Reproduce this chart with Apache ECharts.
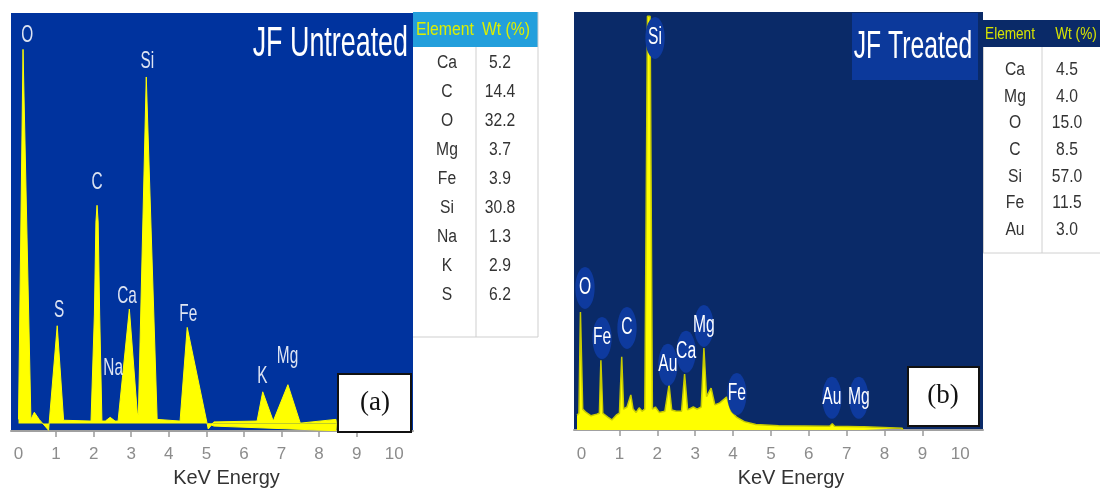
<!DOCTYPE html>
<html>
<head>
<meta charset="utf-8">
<script src="https://cdn.jsdelivr.net/npm/echarts@6/dist/echarts.min.js"></script>
<style>html,body{margin:0;padding:0;background:#fff}#c{width:1100px;height:493px}</style>
</head>
<body>
<div id="c"></div>
<script>
// ---------- DATA ----------
const titleA = 'JF Untreated';
const titleB = 'JF Treated';
const axisTitle = 'KeV Energy';
const tickLabels = [0,1,2,3,4,5,6,7,8,9,10];
const tickMarks = [1,2,3,4,5,6,7,8,9];

// Panel (a) spectrum: [keV, counts]
const spectrumA = [[0.0,2.8],[0.12,91.3],[0.33,2.8],[0.42,4.5],[0.55,2.8],[0.8,0.2],[1.03,25.2],[1.2,2.6],
  [1.93,2.4],[2.02,28],[2.06,50],[2.09,54],[2.12,50],[2.16,28],[2.22,2.4],[2.31,2.4],[2.44,3.3],[2.57,2.4],
  [2.65,2.4],[2.95,29.2],[3.16,4.5],[3.19,4.0],[3.4,84.7],[3.69,2.8],[4.3,2.4],[4.49,24.8],[5.05,0.5],
  [5.2,2.2],[6.35,2.4],[6.5,9.4],[6.78,2.4],[7.17,11.1],[7.5,1.9],[8.45,2.8],[8.46,1.8]];
const wedgeA = [[5.05,1.8],[5.2,1.2],[8.45,0.1],[8.46,1.8]];
const labelNamesA = ['O','Si','C','S','Ca','Na','Fe','K','Mg'];
const labelKeVA = [0.23,3.43,2.09,1.08,2.89,2.52,4.52,6.49,7.16];
const labelCountsA = [94.6,88.4,59.4,28.8,32.3,15.1,27.8,13.0,17.9];

// Panel (b) spectrum
const spectrumB = [[-0.12,3.5],[-0.07,4],[-0.03,28.2],[0.0,28.2],[0.03,5],[0.12,4.2],[0.25,3.4],[0.4,3.8],
  [0.47,4],[0.51,16.7],[0.56,4],[0.7,3.0],[0.8,2.4],[0.92,3.6],[1.0,4],[1.06,17.5],[1.11,5],[1.2,5.5],
  [1.3,8.4],[1.36,5],[1.44,4.2],[1.52,5.3],[1.6,4.5],[1.67,5],[1.74,99],[1.81,99],[1.87,5],[1.95,5.5],
  [2.05,4.2],[2.2,4.5],[2.24,4.8],[2.31,10.8],[2.38,4.8],[2.5,4.5],[2.64,4.5],[2.72,13.4],[2.8,4.8],
  [2.95,5.5],[3.05,5],[3.16,5.5],[3.23,19.6],[3.3,8],[3.42,10],[3.52,6],[3.65,6.5],[3.83,7.9],[3.95,4.5],
  [4.1,3],[4.3,2],[4.6,1.3],[5.2,1.0],[6.55,0.9],[6.62,1.5],[6.68,0.9],[7.35,0.8],[7.4,1.2],[7.45,0.8],
  [8.47,0.4],[8.47,0]];
const labelNamesB = ['Si','O','Fe','C','Au','Ca','Mg','Fe','Au','Mg'];
const labelKeVB = [1.94,0.09,0.54,1.2,2.28,2.76,3.23,4.1,6.61,7.32];
const labelCountsB = [93.8,34.0,22.0,24.4,15.6,18.7,24.9,8.6,7.7,7.7];

// Tables
const elementsA = ['Ca','C','O','Mg','Fe','Si','Na','K','S'];
const wtA = [5.2,14.4,32.2,3.7,3.9,30.8,1.3,2.9,6.2];
const elementsB = ['Ca','Mg','O','C','Si','Fe','Au'];
const wtB = [4.5,4.0,15.0,8.5,57.0,11.5,3.0];
const tableHeader = ['Element','Wt (%)'];
const panelTags = ['(a)','(b)'];

// ---------- STYLE ----------
const SANS = 'Liberation Sans';
const NARROW = "'Liberation Sans Narrow', 'Liberation Sans', sans-serif";
const blueA = '#00339e', navyB = '#0a2a68';

function xAxisCfg(gridIndex, offset, margin, nameGap, namePadLeft){
  return {
    type:'value', gridIndex, min:-0.2, max: gridIndex===0 ? 10.5 : 10.6, offset,
    name: axisTitle, nameLocation:'middle', nameGap,
    nameTextStyle:{color:'#333', fontSize:20, fontFamily:SANS, padding:[0,0,0,namePadLeft]},
    axisLine:{show:true, lineStyle:{color:'#a0a0a0', width:2}},
    axisTick:{show:true, customValues:tickMarks, length:6, lineStyle:{color:'#9a9a9a', width:1.5}},
    axisLabel:{customValues:tickLabels, margin, color:'#8c8c8c', fontSize:17, fontFamily:NARROW},
    splitLine:{show:false}
  };
}
function yAxisCfg(gridIndex){
  return {type:'value', gridIndex, min:0, max:100, show:false, splitLine:{show:false}};
}

function labelSeries(idx, names, keV, counts, withEllipse){
  return {
    type:'custom', xAxisIndex:idx, yAxisIndex:idx, z:10, clip:false,
    encode:{x:0, y:1},
    data: keV.map((k,i)=>[k, counts[i]]),
    renderItem: function(params, api){
      const p = api.coord([api.value(0), api.value(1)]);
      const txt = {type:'text', scaleX: withEllipse ? 0.68 : 0.64,
        style:{text:names[params.dataIndex], fill: withEllipse ? '#ffffff' : '#dde4f2',
               fontSize: withEllipse ? 23 : 24, fontFamily:SANS, align:'center', verticalAlign:'middle'}};
      const children = [];
      if (withEllipse) children.push({type:'circle', scaleX:0.46, shape:{cx:0, cy:0, r:21}, style:{fill:'#0e3a9e'}});
      children.push(txt);
      return {type:'group', x:p[0], y:p[1], children};
    }
  };
}

// ---------- GRAPHIC (titles, tables, tags) ----------
const G = [];
G.push({type:'text', x:408, y:44, scaleX:0.625, z:100,
  style:{text:titleA, fill:'#ffffff', fontSize:43, fontFamily:SANS, align:'right', verticalAlign:'middle'}});
G.push({type:'rect', shape:{x:852, y:13, width:126, height:67}, z:99, style:{fill:'#0c399b'}});
G.push({type:'text', x:913, y:48, scaleX:0.65, z:100,
  style:{text:titleB, fill:'#ffffff', fontSize:38, fontFamily:SANS, align:'center', verticalAlign:'middle'}});

// table a
G.push({type:'rect', shape:{x:413, y:12, width:125, height:35}, z:99, style:{fill:'#239fdc'}});
G.push({type:'text', x:445, y:30, scaleX:0.83, z:100, style:{text:tableHeader[0], fill:'#dcef00', fontSize:19, fontFamily:SANS, align:'center', verticalAlign:'middle'}});
G.push({type:'text', x:506, y:30, scaleX:0.83, z:100, style:{text:tableHeader[1], fill:'#dcef00', fontSize:19, fontFamily:SANS, align:'center', verticalAlign:'middle'}});
G.push({type:'line', shape:{x1:476, y1:47, x2:476, y2:337}, z:99, style:{stroke:'#cfcfcf', lineWidth:1}});
G.push({type:'line', shape:{x1:538, y1:12, x2:538, y2:337}, z:99, style:{stroke:'#cfcfcf', lineWidth:1}});
G.push({type:'line', shape:{x1:413, y1:337, x2:538, y2:337}, z:99, style:{stroke:'#cfcfcf', lineWidth:1}});
elementsA.forEach((e,i)=>{
  const y = 63 + 29*i;
  G.push({type:'text', x:447, y, scaleX:0.87, z:100, style:{text:e, fill:'#333', fontSize:18, fontFamily:SANS, align:'center', verticalAlign:'middle'}});
  G.push({type:'text', x:500, y, scaleX:0.87, z:100, style:{text:wtA[i].toFixed(1), fill:'#333', fontSize:18, fontFamily:SANS, align:'center', verticalAlign:'middle'}});
});

// table b
G.push({type:'rect', shape:{x:983, y:20, width:117, height:27}, z:99, style:{fill:navyB}});
G.push({type:'text', x:1010, y:34, scaleX:0.8, z:100, style:{text:tableHeader[0], fill:'#d8e400', fontSize:17, fontFamily:SANS, align:'center', verticalAlign:'middle'}});
G.push({type:'text', x:1076, y:34, scaleX:0.8, z:100, style:{text:tableHeader[1], fill:'#d8e400', fontSize:17, fontFamily:SANS, align:'center', verticalAlign:'middle'}});
G.push({type:'line', shape:{x1:983.5, y1:47, x2:983.5, y2:253}, z:99, style:{stroke:'#d0d0d0', lineWidth:1}});
G.push({type:'line', shape:{x1:1042, y1:47, x2:1042, y2:253}, z:99, style:{stroke:'#d0d0d0', lineWidth:1}});
G.push({type:'line', shape:{x1:983, y1:253, x2:1100, y2:253}, z:99, style:{stroke:'#d0d0d0', lineWidth:1}});
elementsB.forEach((e,i)=>{
  const y = 70 + 26.7*i;
  G.push({type:'text', x:1015, y, scaleX:0.87, z:100, style:{text:e, fill:'#333', fontSize:18, fontFamily:SANS, align:'center', verticalAlign:'middle'}});
  G.push({type:'text', x:1067, y, scaleX:0.87, z:100, style:{text:wtB[i].toFixed(1), fill:'#333', fontSize:18, fontFamily:SANS, align:'center', verticalAlign:'middle'}});
});

// tags
G.push({type:'rect', shape:{x:338, y:374, width:73, height:58}, z:99, style:{fill:'#fff', stroke:'#111', lineWidth:2}});
G.push({type:'text', x:375, y:403, z:100, style:{text:panelTags[0], fill:'#111', fontSize:27, fontFamily:'Liberation Serif', align:'center', verticalAlign:'middle'}});
G.push({type:'rect', shape:{x:908, y:367, width:71, height:59}, z:99, style:{fill:'#fff', stroke:'#111', lineWidth:2}});
G.push({type:'text', x:943, y:396, z:100, style:{text:panelTags[1], fill:'#111', fontSize:27, fontFamily:'Liberation Serif', align:'center', verticalAlign:'middle'}});

// ---------- CHART ----------
const chart = echarts.init(document.getElementById('c'), null, {renderer:'canvas'});
chart.setOption({
  animation:false,
  backgroundColor:'#ffffff',
  grid:[
    {left:11, top:13, width:402, height:424, show:true, backgroundColor:blueA, borderWidth:0, containLabel:false},
    {left:574, top:12, width:409, height:418, show:true, backgroundColor:navyB, borderWidth:0, containLabel:false}
  ],
  xAxis:[ xAxisCfg(0, 4, 11, 30, 29), xAxisCfg(1, 3, 13, 35, 25) ],
  yAxis:[ yAxisCfg(0), yAxisCfg(1) ],
  series:[
    {type:'line', xAxisIndex:0, yAxisIndex:0, data:spectrumA, symbol:'none', z:3,
     lineStyle:{color:'#ffff00', width:1}, areaStyle:{color:'#ffff00', opacity:1, origin:1.8}},
    {type:'line', xAxisIndex:0, yAxisIndex:0, data:wedgeA, symbol:'none', z:3,
     lineStyle:{color:'#ffff00', width:1}, areaStyle:{color:'#ffff00', opacity:1, origin:1.8}},
    {type:'line', xAxisIndex:1, yAxisIndex:1, data:spectrumB, symbol:'none', z:3,
     lineStyle:{color:'#c8cc00', width:1.5}, areaStyle:{color:'#ffff00', opacity:1, origin:0}},
    labelSeries(0, labelNamesA, labelKeVA, labelCountsA, false),
    labelSeries(1, labelNamesB, labelKeVB, labelCountsB, true)
  ],
  graphic: G
});
</script>
</body>
</html>
